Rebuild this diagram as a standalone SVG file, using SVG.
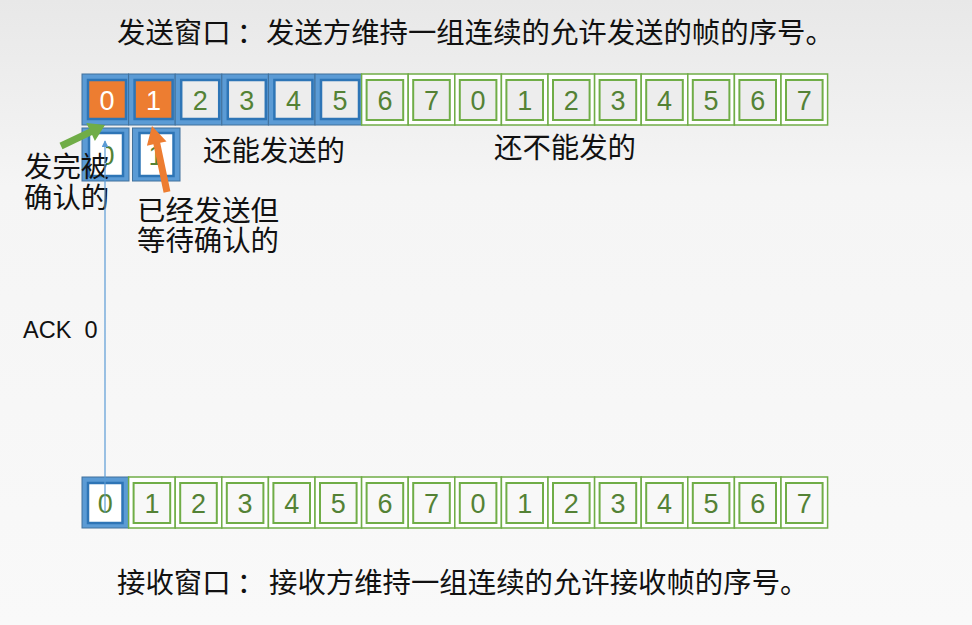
<svg xmlns="http://www.w3.org/2000/svg" width="972" height="625" viewBox="0 0 972 625">
<style>
.cjk{font-family:"Noto Sans CJK SC","Noto Sans",sans-serif;font-size:28.4px;fill:#111}
.dg{font-family:"Liberation Sans",Arial,sans-serif;font-size:27px;fill:#548235;text-anchor:middle}
.dw{fill:#fff}
.bo{fill:#5B9BD5;stroke:#41719C;stroke-width:1}
.bi{fill:#EDEDED;stroke:#2E75B6;stroke-width:2.5}
.biw{fill:#FFFFFF;stroke:#2E75B6;stroke-width:2.5}
.or{fill:#ED7D31;stroke:#2E75B6;stroke-width:2.5}
.go{fill:#FFFFFF;stroke:#70AD47;stroke-width:1.5}
.gi{fill:#EDEDED;stroke:#70AD47;stroke-width:2}
.giw{fill:#F8F8F8;stroke:#70AD47;stroke-width:2}
.lat{font-family:"Liberation Sans",Arial,sans-serif;font-size:23.5px;fill:#111;white-space:pre}
</style>
<defs>
<linearGradient id="bg" x1="0" y1="0" x2="0" y2="1">
<stop offset="0" stop-color="#E8E8E8"/>
<stop offset="0.3" stop-color="#F5F5F5"/>
<stop offset="1" stop-color="#F9F9F9"/>
</linearGradient>
<clipPath id="halfclip"><rect x="106" y="133" width="20" height="43"/></clipPath>
<marker id="ah" viewBox="0 0 10 10" refX="9" refY="5" markerWidth="7" markerHeight="7" orient="auto" markerUnits="userSpaceOnUse">
<path d="M0,0 L10,5 L0,10 z" fill="#5B9BD5"/>
</marker>
</defs>
<rect x="0" y="0" width="972" height="625" fill="url(#bg)"/>

<text class="cjk" y="43"><tspan x="117">发送窗口</tspan><tspan x="251" text-anchor="middle">：</tspan><tspan x="266">发送方维持一组连续的允许发送的帧的序号。</tspan></text>

<g id="send-window">
<g id="s0"><rect class="bo" x="82" y="74" width="46.6" height="51"/><rect class="or" x="88" y="80" width="38" height="39"/><text class="dg dw" x="107" y="109.5">0</text></g>
<g id="s1"><rect class="bo" x="128.6" y="74" width="46.6" height="51"/><rect class="or" x="134.6" y="80" width="38" height="39"/><text class="dg dw" x="153.6" y="109.5">1</text></g>
<g id="s2"><rect class="bo" x="175.2" y="74" width="46.6" height="51"/><rect class="bi" x="181.2" y="80" width="38" height="39"/><text class="dg" x="200.2" y="109.5">2</text></g>
<g id="s3"><rect class="bo" x="221.8" y="74" width="46.6" height="51"/><rect class="bi" x="227.8" y="80" width="38" height="39"/><text class="dg" x="246.8" y="109.5">3</text></g>
<g id="s4"><rect class="bo" x="268.4" y="74" width="46.6" height="51"/><rect class="bi" x="274.4" y="80" width="38" height="39"/><text class="dg" x="293.4" y="109.5">4</text></g>
<g id="s5"><rect class="bo" x="315" y="74" width="46.6" height="51"/><rect class="bi" x="321" y="80" width="38" height="39"/><text class="dg" x="340" y="109.5">5</text></g>
<g id="s6"><rect class="go" x="361.6" y="74" width="46.6" height="51"/><rect class="gi" x="366.6" y="80" width="36.6" height="40"/><text class="dg" x="384.9" y="109.5">6</text></g>
<g id="s7"><rect class="go" x="408.2" y="74" width="46.6" height="51"/><rect class="gi" x="413.2" y="80" width="36.6" height="40"/><text class="dg" x="431.5" y="109.5">7</text></g>
<g id="s8"><rect class="go" x="454.8" y="74" width="46.6" height="51"/><rect class="gi" x="459.8" y="80" width="36.6" height="40"/><text class="dg" x="478.1" y="109.5">0</text></g>
<g id="s9"><rect class="go" x="501.4" y="74" width="46.6" height="51"/><rect class="gi" x="506.4" y="80" width="36.6" height="40"/><text class="dg" x="524.7" y="109.5">1</text></g>
<g id="s10"><rect class="go" x="548" y="74" width="46.6" height="51"/><rect class="gi" x="553" y="80" width="36.6" height="40"/><text class="dg" x="571.3" y="109.5">2</text></g>
<g id="s11"><rect class="go" x="594.6" y="74" width="46.6" height="51"/><rect class="gi" x="599.6" y="80" width="36.6" height="40"/><text class="dg" x="617.9" y="109.5">3</text></g>
<g id="s12"><rect class="go" x="641.2" y="74" width="46.6" height="51"/><rect class="gi" x="646.2" y="80" width="36.6" height="40"/><text class="dg" x="664.5" y="109.5">4</text></g>
<g id="s13"><rect class="go" x="687.8" y="74" width="46.6" height="51"/><rect class="gi" x="692.8" y="80" width="36.6" height="40"/><text class="dg" x="711.1" y="109.5">5</text></g>
<g id="s14"><rect class="go" x="734.4" y="74" width="46.6" height="51"/><rect class="gi" x="739.4" y="80" width="36.6" height="40"/><text class="dg" x="757.7" y="109.5">6</text></g>
<g id="s15"><rect class="go" x="781" y="74" width="46.6" height="51"/><rect class="gi" x="786" y="80" width="36.6" height="40"/><text class="dg" x="804.3" y="109.5">7</text></g>
</g>

<g id="acked">
<g id="a0"><rect class="bo" x="82" y="128" width="47" height="53"/><rect class="biw" x="89" y="133" width="34" height="43"/><text class="dg" x="107" y="165" clip-path="url(#halfclip)">0</text></g>
<g id="a1"><rect class="bo" x="132.5" y="128" width="47.5" height="53"/><rect class="biw" x="139.5" y="133" width="34" height="43"/><text class="dg" x="156" y="165">1</text></g>
</g>

<g id="labels">
<text class="cjk" x="203" y="161">还能发送的</text>
<text class="cjk" x="494" y="158">还不能发的</text>
<text class="cjk"><tspan x="24" y="177">发完被</tspan><tspan x="24" y="208">确认的</tspan></text>
<text class="cjk"><tspan x="137" y="221">已经发送但</tspan><tspan x="137" y="251">等待确认的</tspan></text>
<text class="lat" x="23" y="338">ACK  0</text>
</g>

<g id="recv-window">
<g id="r0"><rect class="bo" x="82" y="477" width="46.6" height="51"/><rect class="biw" x="88" y="483" width="34.5" height="40"/><text class="dg" x="105.3" y="513">0</text></g>
<g id="r1"><rect class="go" x="128.6" y="477" width="46.6" height="51"/><rect class="giw" x="133.6" y="483" width="36.6" height="40"/><text class="dg" x="151.9" y="513">1</text></g>
<g id="r2"><rect class="go" x="175.2" y="477" width="46.6" height="51"/><rect class="giw" x="180.2" y="483" width="36.6" height="40"/><text class="dg" x="198.5" y="513">2</text></g>
<g id="r3"><rect class="go" x="221.8" y="477" width="46.6" height="51"/><rect class="giw" x="226.8" y="483" width="36.6" height="40"/><text class="dg" x="245.1" y="513">3</text></g>
<g id="r4"><rect class="go" x="268.4" y="477" width="46.6" height="51"/><rect class="giw" x="273.4" y="483" width="36.6" height="40"/><text class="dg" x="291.7" y="513">4</text></g>
<g id="r5"><rect class="go" x="315" y="477" width="46.6" height="51"/><rect class="giw" x="320" y="483" width="36.6" height="40"/><text class="dg" x="338.3" y="513">5</text></g>
<g id="r6"><rect class="go" x="361.6" y="477" width="46.6" height="51"/><rect class="giw" x="366.6" y="483" width="36.6" height="40"/><text class="dg" x="384.9" y="513">6</text></g>
<g id="r7"><rect class="go" x="408.2" y="477" width="46.6" height="51"/><rect class="giw" x="413.2" y="483" width="36.6" height="40"/><text class="dg" x="431.5" y="513">7</text></g>
<g id="r8"><rect class="go" x="454.8" y="477" width="46.6" height="51"/><rect class="giw" x="459.8" y="483" width="36.6" height="40"/><text class="dg" x="478.1" y="513">0</text></g>
<g id="r9"><rect class="go" x="501.4" y="477" width="46.6" height="51"/><rect class="giw" x="506.4" y="483" width="36.6" height="40"/><text class="dg" x="524.7" y="513">1</text></g>
<g id="r10"><rect class="go" x="548" y="477" width="46.6" height="51"/><rect class="giw" x="553" y="483" width="36.6" height="40"/><text class="dg" x="571.3" y="513">2</text></g>
<g id="r11"><rect class="go" x="594.6" y="477" width="46.6" height="51"/><rect class="giw" x="599.6" y="483" width="36.6" height="40"/><text class="dg" x="617.9" y="513">3</text></g>
<g id="r12"><rect class="go" x="641.2" y="477" width="46.6" height="51"/><rect class="giw" x="646.2" y="483" width="36.6" height="40"/><text class="dg" x="664.5" y="513">4</text></g>
<g id="r13"><rect class="go" x="687.8" y="477" width="46.6" height="51"/><rect class="giw" x="692.8" y="483" width="36.6" height="40"/><text class="dg" x="711.1" y="513">5</text></g>
<g id="r14"><rect class="go" x="734.4" y="477" width="46.6" height="51"/><rect class="giw" x="739.4" y="483" width="36.6" height="40"/><text class="dg" x="757.7" y="513">6</text></g>
<g id="r15"><rect class="go" x="781" y="477" width="46.6" height="51"/><rect class="giw" x="786" y="483" width="36.6" height="40"/><text class="dg" x="804.3" y="513">7</text></g>
</g>

<g id="connectors">
<line x1="105" y1="513" x2="105" y2="141" stroke="#5B9BD5" stroke-width="1.2" marker-end="url(#ah)"/>
<polygon fill="#70AD47" points="59.5,142.8 89.1,128.7 86.3,122.9 105,125 94.9,140.9 92.1,135.1 62.5,149.2"/>
<polygon fill="#ED7D31" points="170.4,191.2 163.6,192.8 153.4,144.3 146.9,145.7 152,126 166.5,141.4 160.2,142.8"/>
</g>

<text class="cjk" y="593"><tspan x="117">接收窗口</tspan><tspan x="251" text-anchor="middle">：</tspan><tspan x="269">接收方维持一组连续的允许接收帧的序号。</tspan></text>
</svg>
